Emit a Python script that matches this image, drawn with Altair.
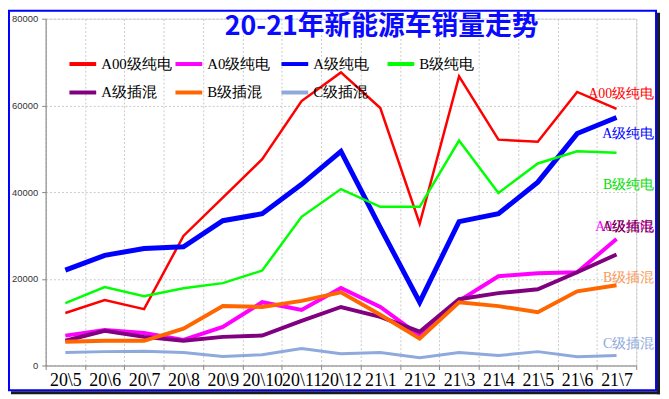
import altair as alt
import pandas as pd

# ---------------- data ----------------
chart_title = "20-21年新能源车销量走势"

months = ["20\\5", "20\\6", "20\\7", "20\\8", "20\\9", "20\\10", "20\\11", "20\\12",
          "21\\1", "21\\2", "21\\3", "21\\4", "21\\5", "21\\6", "21\\7"]

series_names = ["A00级纯电", "A0级纯电", "A级纯电", "B级纯电", "A级插混", "B级插混", "C级插混"]

a00_ev = [12100, 15100, 13000, 29900, 38700, 47600, 61000, 67600, 59400, 32700, 66700, 52100, 51600, 63100, 59200]
a0_ev = [6900, 8200, 7500, 5900, 8900, 14600, 12800, 17900, 13500, 6900, 14900, 20600, 21300, 21500, 29200]
a_ev = [22000, 25400, 27000, 27400, 33400, 35000, 41800, 49400, 31800, 14600, 33200, 35000, 42300, 53500, 57200]
b_ev = [14400, 18100, 16000, 17800, 19000, 21900, 34300, 40700, 36600, 36600, 51900, 39800, 46600, 49400, 49100]
a_phev = [5700, 8000, 6600, 5700, 6600, 6900, 10300, 13500, 11200, 7800, 15300, 16700, 17600, 21500, 25600]
b_phev = [5500, 5700, 5700, 8500, 13700, 13500, 14900, 16900, 11700, 6200, 14600, 13700, 12300, 17100, 18500]
c_phev = [3000, 3200, 3300, 3000, 2100, 2500, 3900, 2700, 3000, 1800, 3000, 2300, 3200, 2000, 2300]

series_values = [a00_ev, a0_ev, a_ev, b_ev, a_phev, b_phev, c_phev]

# value at which each end label sits
label_values = [62600, 32000, 53500, 41600, 32000, 20100, 5000]

# ---------------- styles ----------------
line_colors = ["#FF0000", "#FF00FF", "#0000FF", "#00FF00", "#800080", "#FF6600", "#8EA9DB"]
line_widths = [2.5, 4, 5, 2.5, 4, 4, 3]
label_colors = ["#FF0000", "#FF00FF", "#0000FF", "#00E000", "#5C0A30", "#F79A5A", "#8EA9DB"]

rows = []
for name, vals in zip(series_names, series_values):
    for m, v in zip(months, vals):
        rows.append({"series": name, "month": m, "sales": v})
df = pd.DataFrame(rows)

labels_df = pd.DataFrame({
    "series": series_names,
    "month": [months[-1]] * len(series_names),
    "pos": label_values,
})

W, H = 596, 350

x_enc = alt.X(
    "month:O",
    scale=alt.Scale(type="band", domain=months, paddingInner=0, paddingOuter=0),
    bandPosition=0.5,
    title=None,
    axis=alt.Axis(
        tickBand="extent", labelAngle=0, labelFont="Liberation Serif", labelFontSize=18,
        labelColor="#000000", labelPadding=2, tickSize=4, tickColor="#868686",
        domainColor="#868686", gridColor="#C8C8C8", gridDash=[2, 2], grid=True,
        labelOverlap=False,
    ),
)
y_enc = alt.Y(
    "sales:Q",
    scale=alt.Scale(domain=[0, 80000], nice=False),
    title=None,
    axis=alt.Axis(
        values=[0, 20000, 40000, 60000, 80000], format="d", labelFont="Liberation Sans",
        labelFontSize=9.5, labelColor="#333333", labelPadding=4, tickSize=4,
        tickColor="#868686", domainColor="#868686", gridColor="#C8C8C8", gridDash=[2, 2],
    ),
)
color_enc = alt.Color(
    "series:N",
    scale=alt.Scale(domain=series_names, range=line_colors),
    legend=alt.Legend(
        title=None, orient="none", legendX=22, legendY=30, columns=4, gridAlign="all",
        direction="horizontal", symbolType="stroke", symbolStrokeWidth=4, symbolSize=729,
        labelFont="Liberation Serif", labelFontSize=15, labelColor="#000000", labelOffset=3,
        columnPadding=-4, rowPadding=5, padding=0, labelLimit=200,
    ),
)

base = alt.Chart(df)
layers = []
for name, w in zip(series_names, line_widths):
    layers.append(
        base.transform_filter(alt.datum.series == name)
        .mark_line(strokeWidth=w)
        .encode(x=x_enc, y=y_enc, color=color_enc)
    )

lab_base = alt.Chart(labels_df)
for name, c in zip(series_names, label_colors):
    layers.append(
        lab_base.transform_filter(alt.datum.series == name)
        .mark_text(align="right", baseline="middle", dx=38, fontSize=14,
                   font="Liberation Serif", color=c)
        .encode(x=x_enc, y=alt.Y("pos:Q", scale=alt.Scale(domain=[0, 80000], nice=False)),
                text="series:N")
    )

# chart title (drawn as a text annotation inside the plot frame, as in the original)
title_df = pd.DataFrame({"t": [chart_title]})
title_layer = alt.Chart(title_df).mark_text(
    align="center", baseline="middle", font="Noto Sans CJK SC", fontSize=27,
    fontWeight="bold", color="#0A0AFF",
).encode(x=alt.value(339), y=alt.value(8), text="t:N")

frame_df = pd.DataFrame({"k": [0]})
border = alt.Chart(frame_df).mark_rect(fill="transparent", stroke="#0000FF", strokeWidth=2).encode(
    x=alt.value(-37), x2=alt.value(616), y=alt.value(-8), y2=alt.value(375)
)
shadow_r = alt.Chart(frame_df).mark_rule(stroke="#1A1A1A", strokeWidth=3).encode(
    x=alt.value(618.5), y=alt.value(-6), y2=alt.value(379)
)
shadow_b = alt.Chart(frame_df).mark_rule(stroke="#1A1A1A", strokeWidth=3).encode(
    x=alt.value(-35), x2=alt.value(620), y=alt.value(377.5)
)
layers += [title_layer, border, shadow_r, shadow_b]

chart = alt.layer(*layers).properties(
    width=W, height=H,
    padding={"left": 38, "top": 9, "right": 25, "bottom": 30},
    autosize=alt.AutoSizeParams(type="none"),
).configure_view(stroke=None).configure(background="white")

chart.save("out.html", embed_options={"renderer": "svg", "actions": False})
